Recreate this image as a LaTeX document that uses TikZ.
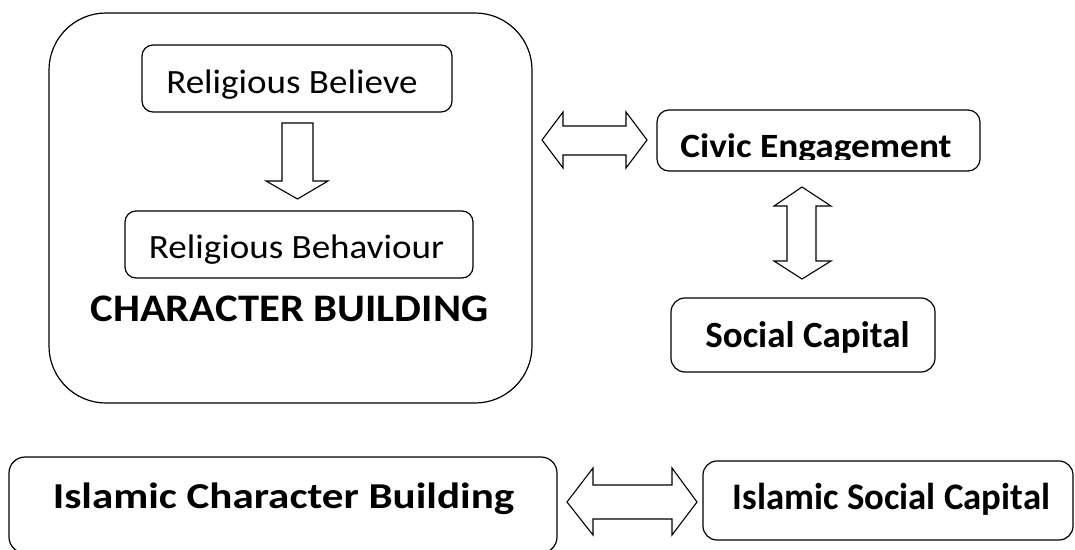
\documentclass[tikz,border=0pt]{standalone}
\usepackage{graphicx}
\usepackage{fontspec}
\setmainfont{Carlito}
\newcommand\wide[2]{\scalebox{#1}[1]{#2}}
\begin{document}
\begin{tikzpicture}[x=1pt,y=-1pt,
  box/.style={draw, line width=1.2pt, inner sep=0pt},
  lbl/.style={inner sep=0pt, anchor=base},
  blockarrow/.style={draw, line width=1.1pt, fill=white, line join=miter}]
\useasboundingbox (0,0) rectangle (1075,549);
\clip (0,0) rectangle (1075,549);

% outer frame of the character-building group
\node[box, rounded corners=57pt, minimum width=483pt, minimum height=390pt] (cbframe) at (290.5,208) {};

% boxes
\node[box, rounded corners=11pt, minimum width=310pt, minimum height=67pt] (rbel) at (297,78.5) {};
\node[box, rounded corners=11pt, minimum width=348pt, minimum height=67pt] (rbeh) at (299,244.5) {};
\node[box, rounded corners=12pt, minimum width=323pt, minimum height=61pt] (civic) at (818.5,140.5) {};
\node[box, rounded corners=14pt, minimum width=264pt, minimum height=74pt] (social) at (803,335) {};
\node[box, rounded corners=16pt, minimum width=548pt, minimum height=96pt] (icb) at (283,505) {};
\node[box, rounded corners=14pt, minimum width=370pt, minimum height=79pt] (isc) at (888,500.5) {};

% texts
\node[lbl, font=\fontsize{34}{38}\selectfont] (trbel) at (292,93) {\wide{1.09}{Religious Believe}};
\node[lbl, font=\fontsize{34}{38}\selectfont] (trbeh) at (296.5,258) {\wide{1.09}{Religious Behaviour}};
\node[lbl, font=\fontsize{39}{43}\selectfont\bfseries] (tcb) at (289.5,321) {\wide{1.094}{CHARACTER BUILDING}};
\begin{scope}
  \clip (660,112) rectangle (978,159);
  \node[lbl, font=\fontsize{34}{38}\selectfont\bfseries] (tcivic) at (816,157) {\wide{1.097}{Civic Engagement}};
\end{scope}
\node[lbl, font=\fontsize{37}{40}\selectfont\bfseries] (tsocial) at (807.5,347) {Social Capital};
\node[lbl, font=\fontsize{36.5}{40}\selectfont\bfseries] (ticb) at (283.5,508) {\wide{1.18}{Islamic Character Building}};
\node[lbl, font=\fontsize{37.5}{41}\selectfont\bfseries] (tisc) at (891.5,509) {\wide{0.98}{Islamic Social Capital}};

% block arrows
% single down arrow from Religious Believe to Religious Behaviour
\draw[blockarrow] (282,123) -- (313,123) -- (313,181) -- (328,181) -- (297.5,199)
  -- (266,181) -- (282,181) -- cycle;
% double arrow between the frame and Civic Engagement
\draw[blockarrow] (542,140) -- (563,112) -- (563,126) -- (626,126) -- (626,112)
  -- (647,140) -- (626,168) -- (626,155) -- (563,155) -- (563,168) -- cycle;
% double arrow between Civic Engagement and Social Capital
\draw[blockarrow] (802,187) -- (831,206) -- (816,206) -- (816,261) -- (831,261)
  -- (802,279) -- (774,261) -- (787,261) -- (787,206) -- (774,206) -- cycle;
% double arrow between the two Islamic boxes
\draw[blockarrow] (567,502) -- (593,468) -- (593,485) -- (672,485) -- (672,468)
  -- (697,502) -- (672,535) -- (672,519) -- (593,519) -- (593,535) -- cycle;
\end{tikzpicture}
\end{document}
